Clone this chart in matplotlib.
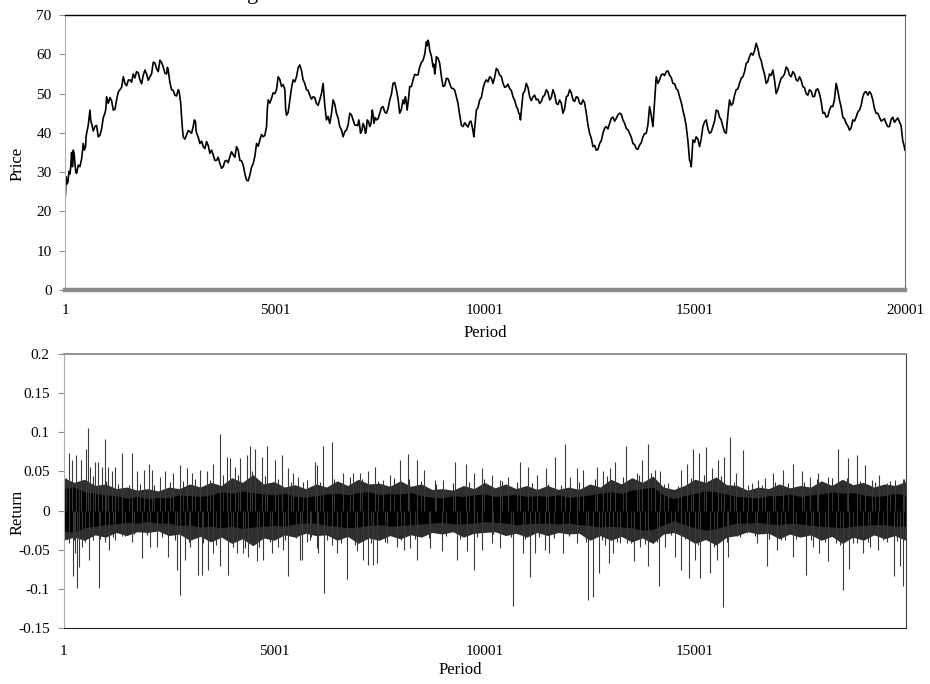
import matplotlib
matplotlib.use('Agg')
import matplotlib.pyplot as plt
import numpy as np

plt.rcParams['font.family'] = ['Liberation Serif', 'DejaVu Serif']
plt.rcParams['font.size'] = 11

# price path, sampled along the run
price_period = [1, 20, 60, 108, 147, 170, 187, 230, 266, 346, 425, 480, 505, 584, 624, 703, 782, 862,
                941, 981, 1060, 1140, 1219, 1298, 1378, 1457, 1536, 1616, 1695, 1775, 1854, 1933, 2013,
                2092, 2171, 2251, 2330, 2410, 2449, 2529, 2608, 2687, 2727, 2767, 2806, 2886, 2965, 3044,
                3100, 3124, 3203, 3283, 3362, 3441, 3521, 3600, 3679, 3759, 3838, 3918, 3997, 4076, 4156,
                4235, 4314, 4394, 4473, 4553, 4632, 4711, 4791, 4830, 4910, 4989, 5068, 5148, 5227, 5267,
                5346, 5425, 5505, 5584, 5662, 5742, 5821, 5900, 5980, 6059, 6139, 6218, 6297, 6377, 6456,
                6535, 6615, 6694, 6774, 6853, 6932, 6990, 7030, 7091, 7150, 7190, 7250, 7310, 7350, 7409,
                7488, 7567, 7647, 7726, 7805, 7885, 7964, 8043, 8100, 8140, 8202, 8282, 8361, 8440, 8520,
                8599, 8639, 8678, 8758, 8797, 8837, 8916, 8996, 9075, 9155, 9234, 9313, 9393, 9472, 9552,
                9631, 9690, 9730, 9790, 9869, 9948, 10028, 10107, 10186, 10266, 10345, 10425, 10504, 10583,
                10663, 10742, 10800, 10840, 10901, 10980, 11060, 11139, 11218, 11298, 11377, 11456, 11536,
                11615, 11695, 11774, 11853, 11933, 12012, 12091, 12171, 12250, 12330, 12409, 12488, 12568,
                12647, 12726, 12806, 12885, 12964, 13044, 13123, 13202, 13281, 13361, 13440, 13520, 13599,
                13678, 13758, 13837, 13916, 13996, 14075, 14155, 14234, 14313, 14393, 14472, 14551, 14631,
                14710, 14790, 14869, 14908, 14948, 15028, 15107, 15186, 15266, 15345, 15424, 15504, 15583,
                15663, 15742, 15821, 15901, 15980, 16059, 16139, 16218, 16297, 16377, 16456, 16536, 16615,
                16694, 16774, 16853, 16932, 17012, 17091, 17171, 17250, 17329, 17409, 17488, 17567, 17647,
                17726, 17806, 17885, 17964, 18044, 18123, 18202, 18282, 18361, 18440, 18520, 18599, 18679,
                18758, 18837, 18917, 18996, 19075, 19155, 19234, 19313, 19393, 19472, 19552, 19631, 19710,
                19790, 19869, 19948, 20001]
price = [24.0, 28.8, 27.5, 29.5, 35.0, 31.4, 35.6, 31.8, 29.7, 31.4, 37.3, 36.5, 39.9, 45.8, 42.4, 41.6,
         39.0, 41.0, 45.0, 49.2, 49.0, 45.8, 48.4, 51.0, 54.3, 52.0, 53.5, 55.0, 55.6, 53.5, 54.7, 55.0,
         54.3, 58.0, 56.4, 58.5, 56.8, 55.0, 56.0, 51.0, 49.6, 51.0, 49.2, 44.0, 39.0, 39.5, 40.3, 41.6,
         42.8, 40.0, 37.3, 36.5, 37.8, 34.8, 34.4, 33.0, 32.2, 31.4, 33.0, 34.0, 34.4, 36.5, 33.0, 31.8,
         28.0, 29.3, 32.2, 37.3, 38.2, 39.0, 41.6, 48.4, 48.8, 50.0, 54.3, 51.8, 51.0, 44.5, 48.4, 53.5,
         54.3, 57.3, 53.5, 51.0, 49.6, 49.2, 47.5, 48.4, 52.6, 43.3, 42.4, 48.4, 45.0, 41.6, 39.0, 40.7,
         45.0, 43.3, 42.0, 43.3, 39.9, 42.4, 39.9, 43.3, 41.6, 45.8, 42.4, 43.3, 45.0, 46.7, 45.0, 48.4,
         52.6, 51.0, 45.0, 48.4, 49.2, 45.8, 51.8, 53.5, 54.7, 56.8, 58.5, 63.2, 63.6, 61.0, 56.8, 55.0,
         59.4, 57.7, 51.8, 53.9, 52.6, 51.3, 49.2, 44.5, 41.6, 42.0, 42.8, 41.6, 39.0, 45.8, 48.4, 51.3,
         53.5, 54.3, 52.6, 56.4, 54.7, 52.6, 51.8, 51.3, 49.2, 46.7, 45.0, 43.3, 50.0, 52.6, 49.2, 49.2,
         48.4, 47.5, 49.2, 51.0, 48.4, 51.0, 47.5, 48.4, 45.0, 49.2, 51.0, 48.4, 49.2, 47.5, 48.4, 45.0,
         39.9, 36.5, 35.6, 37.3, 39.9, 41.6, 42.4, 44.0, 43.7, 45.0, 43.3, 41.1, 39.9, 37.3, 36.0, 36.9,
         39.0, 39.9, 46.7, 41.6, 54.3, 53.5, 55.0, 55.6, 54.7, 52.6, 51.3, 49.2, 45.8, 41.6, 33.0, 31.4,
         38.2, 39.0, 36.5, 41.6, 43.3, 39.9, 41.6, 45.8, 44.0, 41.6, 39.9, 48.4, 47.5, 51.0, 52.6, 54.3,
         57.7, 59.4, 59.8, 62.8, 59.4, 56.4, 52.6, 55.0, 56.0, 50.0, 52.6, 54.3, 56.8, 54.7, 55.6, 53.5,
         54.3, 51.8, 50.0, 51.0, 49.2, 51.0, 50.0, 45.0, 44.0, 45.8, 46.7, 52.6, 48.4, 44.0, 42.4, 40.7,
         43.3, 44.0, 45.8, 49.2, 50.5, 50.5, 48.4, 45.0, 44.0, 43.3, 42.4, 41.6, 44.0, 43.3, 42.8, 38.0,
         35.6]
# short-term wiggle between consecutive samples
price_between = [27.0, 27.0, 30.2, 31.5, 32.0, 32.6, 34.6, 30.0, 31.8, 33.4, 35.6, 39.0, 42.0, 43.0, 40.5, 41.9,
                 39.4, 43.9, 46.0, 47.5, 48.2, 46.0, 50.4, 51.6, 52.6, 53.4, 52.9, 54.0, 55.3, 52.5, 56.0, 53.4,
                 55.0, 57.8, 55.6, 57.9, 55.2, 56.7, 52.8, 50.8, 49.4, 50.6, 47.5, 41.2, 38.4, 40.6, 39.9, 43.3,
                 40.5, 38.9, 37.9, 36.0, 36.8, 35.6, 33.0, 33.8, 31.0, 32.8, 32.4, 35.2, 33.8, 35.6, 32.9, 29.6,
                 27.8, 31.2, 34.0, 36.6, 39.6, 39.4, 46.2, 47.6, 50.2, 51.0, 53.6, 52.3, 46.0, 45.2, 51.4, 53.0,
                 56.6, 55.9, 52.6, 50.8, 48.6, 49.0, 47.0, 50.0, 47.0, 44.2, 44.8, 47.3, 43.8, 40.8, 40.3, 42.0,
                 44.6, 42.0, 41.8, 41.9, 40.6, 41.6, 41.0, 42.9, 42.4, 44.6, 43.9, 43.6, 46.4, 45.3, 46.2, 49.8,
                 52.8, 48.6, 46.0, 47.4, 48.0, 48.4, 51.8, 54.9, 54.8, 57.9, 60.0, 62.2, 62.8, 59.6, 57.5, 56.5,
                 59.0, 54.4, 52.0, 53.8, 51.4, 50.9, 47.5, 42.0, 42.6, 41.5, 43.0, 40.5, 42.3, 46.5, 49.0, 52.8,
                 53.0, 53.9, 54.2, 55.9, 54.4, 51.6, 52.4, 50.8, 48.3, 46.2, 44.8, 46.6, 50.6, 51.5, 48.2, 49.6,
                 48.6, 48.0, 49.6, 50.3, 49.0, 49.8, 47.2, 47.5, 46.2, 49.5, 50.2, 48.0, 49.0, 47.3, 47.6, 42.0,
                 38.6, 36.8, 35.8, 38.0, 41.2, 41.0, 43.7, 43.0, 44.6, 44.8, 42.5, 40.8, 38.9, 37.0, 35.8, 37.5,
                 39.8, 42.0, 44.5, 48.0, 52.6, 54.8, 54.6, 55.8, 54.1, 52.5, 50.8, 47.8, 44.0, 38.0, 32.6, 34.5,
                 37.6, 38.4, 38.5, 42.8, 41.0, 40.2, 43.0, 45.6, 43.3, 40.2, 44.5, 47.0, 49.6, 51.2, 53.9, 55.5,
                 58.0, 60.3, 60.9, 61.5, 58.4, 55.0, 53.2, 54.6, 53.5, 51.0, 53.9, 55.0, 56.2, 54.3, 55.0, 53.2,
                 53.4, 51.5, 49.6, 50.6, 49.3, 51.2, 48.0, 45.2, 44.2, 46.8, 48.5, 50.8, 46.6, 43.6, 41.8, 41.3,
                 43.0, 45.3, 47.0, 50.3, 49.6, 49.9, 46.2, 45.0, 43.0, 43.6, 41.6, 43.4, 42.7, 43.8, 41.8, 37.0]

# dense core of the returns and the fringe of smaller moves around it, every 250 periods
band_period = [1] + list(range(250, 20001, 250))
core_high = [0.028, 0.030, 0.024, 0.022, 0.020, 0.019, 0.016, 0.018, 0.015, 0.017, 0.016, 0.020, 0.019,
             0.018, 0.020, 0.024, 0.022, 0.025, 0.023, 0.021, 0.020, 0.022, 0.018, 0.017, 0.019, 0.021,
             0.022, 0.020, 0.023, 0.024, 0.020, 0.022, 0.021, 0.023, 0.019, 0.017, 0.016, 0.019, 0.018,
             0.020, 0.021, 0.018, 0.019, 0.021, 0.018, 0.019, 0.018, 0.020, 0.017, 0.018, 0.020, 0.022,
             0.024, 0.022, 0.026, 0.028, 0.030, 0.020, 0.015, 0.019, 0.022, 0.025, 0.024, 0.021, 0.018,
             0.017, 0.016, 0.019, 0.019, 0.021, 0.018, 0.020, 0.021, 0.024, 0.022, 0.023, 0.020, 0.018,
             0.019, 0.022, 0.020]
core_low = [-0.026, -0.028, -0.022, -0.020, -0.018, -0.017, -0.015, -0.016, -0.014, -0.016, -0.016,
            -0.019, -0.018, -0.021, -0.020, -0.022, -0.020, -0.023, -0.021, -0.020, -0.019, -0.020,
            -0.017, -0.016, -0.016, -0.019, -0.020, -0.022, -0.021, -0.019, -0.018, -0.020, -0.019,
            -0.018, -0.017, -0.016, -0.015, -0.017, -0.017, -0.016, -0.014, -0.015, -0.016, -0.018,
            -0.017, -0.016, -0.016, -0.017, -0.016, -0.018, -0.019, -0.021, -0.020, -0.021, -0.022,
            -0.025, -0.024, -0.018, -0.013, -0.018, -0.022, -0.025, -0.023, -0.019, -0.016, -0.016,
            -0.015, -0.017, -0.018, -0.016, -0.017, -0.019, -0.020, -0.021, -0.022, -0.020, -0.019,
            -0.018, -0.018, -0.020, -0.020]
fringe_high = [0.042, 0.036, 0.040, 0.032, 0.034, 0.028, 0.030, 0.026, 0.028, 0.025, 0.030, 0.028, 0.034,
               0.030, 0.036, 0.032, 0.042, 0.036, 0.046, 0.034, 0.037, 0.030, 0.033, 0.028, 0.034, 0.030,
               0.038, 0.032, 0.040, 0.034, 0.035, 0.031, 0.038, 0.031, 0.034, 0.027, 0.028, 0.026, 0.032,
               0.028, 0.036, 0.029, 0.034, 0.028, 0.032, 0.027, 0.032, 0.027, 0.030, 0.027, 0.034, 0.030,
               0.040, 0.034, 0.042, 0.036, 0.044, 0.030, 0.027, 0.032, 0.040, 0.036, 0.043, 0.033, 0.032,
               0.026, 0.030, 0.028, 0.034, 0.029, 0.032, 0.030, 0.038, 0.032, 0.040, 0.033, 0.036, 0.030,
               0.034, 0.032, 0.037]
fringe_low = [-0.038, -0.034, -0.038, -0.031, -0.034, -0.028, -0.032, -0.027, -0.028, -0.026, -0.032,
              -0.030, -0.038, -0.033, -0.040, -0.034, -0.042, -0.036, -0.045, -0.035, -0.038, -0.031,
              -0.034, -0.029, -0.032, -0.031, -0.038, -0.033, -0.042, -0.035, -0.038, -0.032, -0.036,
              -0.031, -0.034, -0.028, -0.030, -0.027, -0.034, -0.029, -0.028, -0.027, -0.032, -0.029,
              -0.034, -0.028, -0.032, -0.028, -0.030, -0.029, -0.038, -0.032, -0.038, -0.033, -0.040,
              -0.035, -0.042, -0.030, -0.028, -0.034, -0.042, -0.037, -0.044, -0.034, -0.032, -0.027,
              -0.030, -0.029, -0.036, -0.030, -0.034, -0.031, -0.038, -0.033, -0.042, -0.034, -0.038,
              -0.031, -0.036, -0.032, -0.038]

# medium-sized returns sticking out of the core
mid_period = [60, 240, 380, 520, 690, 860, 1010, 1180, 1300, 1460, 1560, 1680, 1820, 1990, 2150, 2340,
              2520, 2640, 2830, 2980, 3130, 3310, 3480, 3620, 3800, 3990, 4140, 4300, 4480, 4640, 4790,
              4900, 5090, 5260, 5400, 5530, 5700, 5880, 6090, 6250, 6420, 6590, 6800, 6930, 7080, 7300,
              7480, 7640, 7840, 8020, 8210, 8340, 8500, 8680, 8860, 9080, 9250, 9420, 9640, 9820, 10000,
              10210, 10420, 10620, 10780, 10960, 11120, 11300, 11500, 11640, 11820, 12000, 12240, 12420,
              12620, 12780, 12920, 13140, 13300, 13480, 13660, 13810, 13950, 14100, 14260, 14440, 14600,
              14760, 14900, 15060, 15220, 15440, 15620, 15760, 15920, 16080, 16260, 16420, 16580, 16760,
              16900, 17050, 17220, 17400, 17580, 17760, 17900, 18080, 18260, 18440, 18600, 18760, 18920,
              19100, 19280, 19460, 19620, 19800, 19960]
mid_return = [0.042, -0.038, 0.036, -0.040, 0.044, -0.036, 0.038, -0.034, 0.034, -0.032,
              0.032, -0.030, 0.034, -0.031, 0.033, -0.034, 0.036, -0.038, 0.038, -0.040,
              0.040, -0.042, 0.039, -0.044, 0.045, -0.040, 0.046, -0.048, 0.050, -0.046,
              0.044, -0.040, 0.040, -0.038, 0.036, -0.035, 0.037, -0.034, 0.036, -0.038,
              0.040, -0.042, 0.043, -0.044, 0.040, -0.041, 0.038, -0.040, 0.042, -0.037,
              0.040, -0.036, 0.038, -0.035, 0.034, -0.032, 0.035, -0.036, 0.036, -0.034,
              0.040, -0.030, 0.038, -0.034, 0.036, -0.036, 0.035, -0.034, 0.034, -0.035,
              0.033, -0.032, 0.036, -0.040, 0.040, -0.038, 0.044, -0.040, 0.043, -0.042,
              0.046, -0.043, 0.048, -0.040, 0.034, -0.031, 0.031, -0.036, 0.042, -0.044,
              0.045, -0.046, 0.044, -0.040, 0.036, -0.034, 0.033, -0.032, 0.033, -0.036,
              0.036, -0.038, 0.035, -0.036, 0.036, -0.037, 0.040, -0.040, 0.042, -0.044,
              0.042, -0.042, 0.038, -0.040, 0.037, -0.038, 0.038, -0.039, 0.040]

# large individual returns
spike_period = [131, 194, 297, 416, 535, 574, 630, 748, 828, 907, 986, 1065, 1144, 1223, 1382, 1619,
                1738, 1920, 2031, 2094, 2292, 2411, 2593, 2767, 2926, 3044, 3242, 3401, 3559, 3717, 3876,
                3955, 4073, 4192, 4351, 4430, 4549, 4707, 4826, 5024, 5182, 5340, 5459, 5578, 5776, 5974,
                139, 218, 265, 313, 368, 432, 614, 709, 851, 990, 1070, 1226, 1385, 1622, 1857, 2055, 2213,
                2490, 2688, 2770, 2886, 3005, 3203, 3282, 3440, 3562, 3720, 3915, 4034, 4113, 4271, 4390,
                4588, 4746, 4944, 5103, 5221, 5343, 5617, 5779, 6013,
                6016, 6155, 6369, 6646, 6884, 7042, 7240, 7398, 7596, 7755, 7992, 8174, 8388, 8562, 8823,
                9021, 9298, 9552, 9750, 9932, 10169, 10367, 10565, 10842, 11040, 11238, 11460, 11673,
                11919, 12030, 12188, 12346, 12663, 12821, 12980, 13098,
                5657, 5855, 6052, 6195, 6372, 6488, 6741, 6963, 7121, 7243, 7359, 7438, 7675, 7913, 8087,
                8230, 8391, 8705, 8982, 9338, 9576, 9753, 9935, 10172, 10370, 10684, 10921, 11080, 11198,
                11436, 11539, 11871, 12191, 12465, 12584, 12726, 12861, 12964, 13058,
                13359, 13612, 13731, 13889, 14048, 14167, 14364, 14657, 14816, 14958, 15101, 15259, 15394,
                15552, 15687, 15829, 15972, 16130, 16344, 16502, 16660, 16842, 17096, 17317, 17531, 17729,
                17927, 18165, 18402, 18640, 18838, 19035, 19194, 19376, 19550, 19748, 19946,
                13217, 13375, 13549, 13692, 13874, 14151, 14285, 14523, 14660, 14863, 14998, 15117, 15354,
                15512, 15671, 15790, 15987, 16225, 16462, 16716, 16938, 17135, 17333, 17634, 17808, 17951,
                18168, 18347, 18505, 18663, 18841, 18996, 19155, 19352, 19553, 19724, 19867, 19949]
spike_return = [0.074, 0.065, 0.071, 0.065, 0.079, 0.105, 0.056, 0.062, 0.062, 0.056, 0.091, 0.056, 0.050,
                0.056, 0.073, 0.073, 0.050, 0.052, 0.060, 0.052, 0.043, 0.050, 0.048, 0.058, 0.054, 0.048,
                0.052, 0.050, 0.060, 0.098, 0.069, 0.067, 0.056, 0.067, 0.071, 0.082, 0.079, 0.069, 0.082,
                0.065, 0.071, 0.054, 0.048, 0.043, 0.039, 0.062,
                -0.042, -0.084, -0.054, -0.099, -0.072, -0.046, -0.063, -0.037, -0.099, -0.040, -0.050,
                -0.037, -0.033, -0.040, -0.061, -0.046, -0.046, -0.059, -0.076, -0.108, -0.063, -0.046,
                -0.082, -0.082, -0.076, -0.054, -0.071, -0.082, -0.046, -0.054, -0.054, -0.059, -0.065,
                -0.063, -0.054, -0.046, -0.050, -0.084, -0.063, -0.040, -0.048,
                0.058, 0.082, 0.088, 0.048, 0.048, 0.048, 0.050, 0.056, 0.039, 0.045, 0.065, 0.072, 0.064,
                0.052, 0.039, 0.039, 0.062, 0.060, 0.048, 0.054, 0.045, 0.039, 0.043, 0.062, 0.056, 0.045,
                0.054, 0.069, 0.085, 0.043, 0.054, 0.052, 0.056, 0.050, 0.054, 0.062,
                -0.063, -0.037, -0.054, -0.105, -0.044, -0.054, -0.088, -0.052, -0.063, -0.069, -0.069,
                -0.067, -0.042, -0.046, -0.050, -0.048, -0.063, -0.048, -0.052, -0.063, -0.052, -0.076,
                -0.050, -0.042, -0.048, -0.122, -0.054, -0.085, -0.054, -0.050, -0.054, -0.054, -0.042,
                -0.114, -0.110, -0.080, -0.044, -0.067, -0.054,
                0.082, 0.048, 0.065, 0.085, 0.052, 0.050, 0.035, 0.052, 0.060, 0.078, 0.073, 0.081, 0.054,
                0.065, 0.069, 0.094, 0.048, 0.077, 0.035, 0.039, 0.041, 0.048, 0.052, 0.060, 0.050, 0.043,
                0.048, 0.043, 0.078, 0.067, 0.071, 0.058, 0.039, 0.045, 0.035, 0.039, 0.040,
                -0.042, -0.042, -0.065, -0.046, -0.071, -0.096, -0.046, -0.059, -0.076, -0.086, -0.063,
                -0.086, -0.080, -0.063, -0.123, -0.059, -0.033, -0.029, -0.042, -0.071, -0.050, -0.037,
                -0.059, -0.082, -0.046, -0.054, -0.065, -0.042, -0.102, -0.075, -0.042, -0.054, -0.046,
                -0.050, -0.040, -0.084, -0.071, -0.096]

price_yticks = [0, 10, 20, 30, 40, 50, 60, 70]
return_yticks = [-0.15, -0.1, -0.05, 0, 0.05, 0.1, 0.15, 0.2]
return_ylabels = ['-0.15', '-0.1', '-0.05', '0', '0.05', '0.1', '0.15', '0.2']
top_xticks = [1, 5001, 10001, 15001, 20001]
bottom_xticks = [1, 5001, 10001, 15001]

# interleave the samples with the wiggle points
pp = np.asarray(price_period, dtype=float)
px = np.empty(2 * len(pp) - 1)
py = np.empty(2 * len(pp) - 1)
px[0::2] = pp
py[0::2] = price
px[1::2] = (pp[:-1] + pp[1:]) / 2
py[1::2] = price_between

fig = plt.figure(figsize=(9.3, 6.84), dpi=100)

# ---- price panel
ax1 = fig.add_axes([0.0704, 0.576, 0.9027, 0.402])
ax1.plot(px, py, color='black', lw=1.2)
ax1.set_xlim(1, 20001)
ax1.set_ylim(0, 70)
ax1.set_yticks(price_yticks)
ax1.set_xticks(top_xticks)
ax1.set_xticklabels([str(t) for t in top_xticks])
ax1.tick_params(axis='y', direction='out', length=4, width=0.8, color='#909090', pad=6)
ax1.tick_params(axis='x', length=0, pad=10)
ax1.spines['top'].set_color('black')
ax1.spines['top'].set_linewidth(1.0)
ax1.spines['left'].set_color('#b0b0b0')
ax1.spines['right'].set_color('#707070')
ax1.spines['bottom'].set_color('#8c8c8c')
ax1.spines['bottom'].set_linewidth(3.2)
ax1.set_ylabel('Price', fontsize=12)
ax1.yaxis.set_label_coords(-0.048, 0.46)
ax1.set_xlabel('Period', fontsize=12)
ax1.xaxis.set_label_coords(0.5, -0.156)
ax1.xaxis.label.set_va('center')

# ---- return panel
ax2 = fig.add_axes([0.0683, 0.0819, 0.9054, 0.4006])
ax2.fill_between(band_period, fringe_low, fringe_high, color='#2e2e2e', lw=0)
ax2.vlines(mid_period, 0, mid_return, color='#303030', lw=0.8)
ax2.vlines(spike_period, 0, spike_return, color='#3a3a3a', lw=0.8)
ax2.fill_between(band_period, core_low, core_high, color='black', lw=0)
ax2.set_xlim(1, 20001)
ax2.set_ylim(-0.15, 0.2)
ax2.set_yticks(return_yticks)
ax2.set_yticklabels(return_ylabels)
ax2.set_xticks(bottom_xticks)
ax2.set_xticklabels([str(t) for t in bottom_xticks])
ax2.tick_params(axis='y', direction='out', length=4, width=0.8, color='#909090', pad=6)
ax2.tick_params(axis='x', length=0, pad=12)
ax2.spines['top'].set_color('#808080')
ax2.spines['top'].set_linewidth(1.2)
ax2.spines['left'].set_color('#b0b0b0')
ax2.spines['right'].set_color('#404040')
ax2.spines['bottom'].set_color('#202020')
ax2.set_ylabel('Return', fontsize=12)
ax2.yaxis.set_label_coords(-0.0457, 0.423)
ax2.set_xlabel('Period', fontsize=12)
ax2.xaxis.set_label_coords(0.471, -0.153)
ax2.xaxis.label.set_va('center')

# caption line running off the top edge
fig.text(0.272, 1.002, 'g', fontsize=16, ha='center', va='baseline')

fig.savefig('out.png', dpi=100)
